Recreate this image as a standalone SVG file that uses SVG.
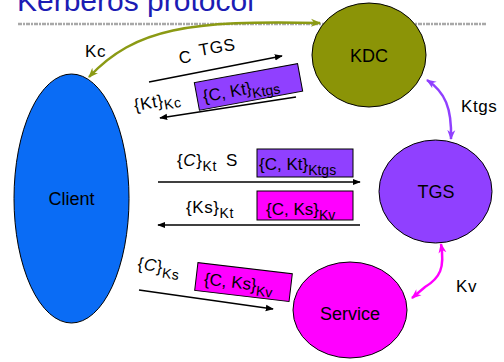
<svg xmlns="http://www.w3.org/2000/svg" width="504" height="362" viewBox="0 0 504 362">
<style>
text{font-family:"Liberation Sans","DejaVu Sans",sans-serif;fill:#000}
.lbl{font-size:17px;letter-spacing:0.6px}
.node{font-size:18px}
.sub{font-size:14px}
.arr{fill:none;stroke:#000;stroke-width:1.5}
.node-shape{stroke:#000;stroke-width:1}
</style>
<defs>
<marker id="ah" viewBox="0 0 10 10" refX="9" refY="5" markerWidth="8" markerHeight="8" markerUnits="userSpaceOnUse" orient="auto-start-reverse"><path d="M0,1 L10,5 L0,9 z" fill="#000"/></marker>
<marker id="ahO" viewBox="0 0 10 10" refX="9" refY="5" markerWidth="10" markerHeight="10" markerUnits="userSpaceOnUse" orient="auto-start-reverse"><path d="M0,1 L10,5 L0,9 L3,5 z" fill="#8b9a14"/></marker>
<marker id="ahP" viewBox="0 0 10 10" refX="9" refY="5" markerWidth="10" markerHeight="10" markerUnits="userSpaceOnUse" orient="auto-start-reverse"><path d="M0,1 L10,5 L0,9 L3,5 z" fill="#9040ff"/></marker>
<marker id="ahM" viewBox="0 0 10 10" refX="9" refY="5" markerWidth="10" markerHeight="10" markerUnits="userSpaceOnUse" orient="auto-start-reverse"><path d="M0,1 L10,5 L0,9 L3,5 z" fill="#ff00ff"/></marker>
</defs>
<rect width="504" height="362" fill="#fff"/>
<text x="17" y="11" style="font-size:30px;fill:#1c1cb4">Kerberos protocol</text>
<line x1="18" y1="24" x2="487" y2="24" stroke="#a8a8a8" stroke-width="2.5" stroke-dasharray="4 1 2 1"/>

<g id="client"><ellipse class="node-shape" cx="71.5" cy="198.5" rx="57.5" ry="124.5" fill="#0a6cf5"/><text class="node" x="71.5" y="205" text-anchor="middle">Client</text></g>
<g id="kdc"><ellipse class="node-shape" cx="369" cy="55" rx="57" ry="52" fill="#8b9407"/><text class="node" x="369" y="62" text-anchor="middle">KDC</text></g>
<g id="tgs"><ellipse class="node-shape" cx="435.5" cy="191.5" rx="56.5" ry="51.5" fill="#9040ff"/><text class="node" x="436" y="198" text-anchor="middle">TGS</text></g>
<g id="service"><ellipse class="node-shape" cx="350" cy="310" rx="57" ry="48" fill="#ff00ff"/><text class="node" x="350" y="320" text-anchor="middle">Service</text></g>

<g id="connectors">
<path d="M89,77 C135,28 190,20 320,23" fill="none" stroke="#8b9a14" stroke-width="2.5" marker-start="url(#ahO)" marker-end="url(#ahO)"/>
<text class="lbl" x="85" y="57">Kc</text>
<path d="M427,80 C445,92 452,108 451,139" fill="none" stroke="#9040ff" stroke-width="2.5" marker-start="url(#ahP)" marker-end="url(#ahP)"/>
<text class="lbl" x="461" y="112">Ktgs</text>
<path d="M441,244 C445,268 440,278 425,287 L412,298" fill="none" stroke="#ff00ff" stroke-width="2.5" marker-start="url(#ahM)" marker-end="url(#ahM)"/>
<text class="lbl" x="456" y="292">Kv</text>

<line class="arr" x1="149" y1="82" x2="282" y2="56" marker-end="url(#ah)"/>
<text class="lbl" transform="translate(180,64) rotate(-11)">C</text>
<text class="lbl" transform="translate(200,56) rotate(-10)">TGS</text>
<g transform="translate(248,87) rotate(-10.5)"><rect x="-52" y="-14" width="105" height="28" fill="#9040ff" stroke="#000" stroke-width="1"/><text x="-46" y="7" style="font-size:17px">{C, Kt}<tspan class="sub" dy="5">Ktgs</tspan></text></g>
<line class="arr" x1="296" y1="97" x2="160" y2="118" marker-end="url(#ah)"/>
<text class="lbl" transform="translate(135,111) rotate(-10)">{Kt}<tspan class="sub" dy="4">Kc</tspan></text>

<text class="lbl" x="177" y="166">{<tspan font-style="italic">C</tspan>}<tspan class="sub" dy="5">Kt</tspan><tspan dy="-5" dx="9">S</tspan></text>
<rect x="257" y="149" width="96" height="28" fill="#9040ff" stroke="#000" stroke-width="1"/>
<text x="259" y="170" style="font-size:17px">{C, Kt}<tspan class="sub" dy="5">Ktgs</tspan></text>
<line class="arr" x1="158" y1="182" x2="360" y2="182" marker-end="url(#ah)"/>

<text class="lbl" x="186" y="213">{Ks}<tspan class="sub" dy="5">Kt</tspan></text>
<rect x="257" y="191" width="96" height="29" fill="#ff00ff" stroke="#000" stroke-width="1"/>
<text x="266" y="215" style="font-size:17px">{C, Ks}<tspan class="sub" dy="5">Kv</tspan></text>
<line class="arr" x1="360" y1="225" x2="158" y2="225" marker-end="url(#ah)"/>

<text class="lbl" transform="translate(137,269) rotate(8)">{<tspan font-style="italic">C</tspan>}<tspan class="sub" dy="5">Ks</tspan></text>
<g transform="translate(243,282) rotate(6.7)"><rect x="-47" y="-14" width="95" height="28" fill="#ff00ff" stroke="#000" stroke-width="1"/><text x="-39" y="7" style="font-size:17px">{C, Ks}<tspan class="sub" dy="5">Kv</tspan></text></g>
<line class="arr" x1="139" y1="290" x2="273" y2="309" marker-end="url(#ah)"/>
</g>
</svg>
